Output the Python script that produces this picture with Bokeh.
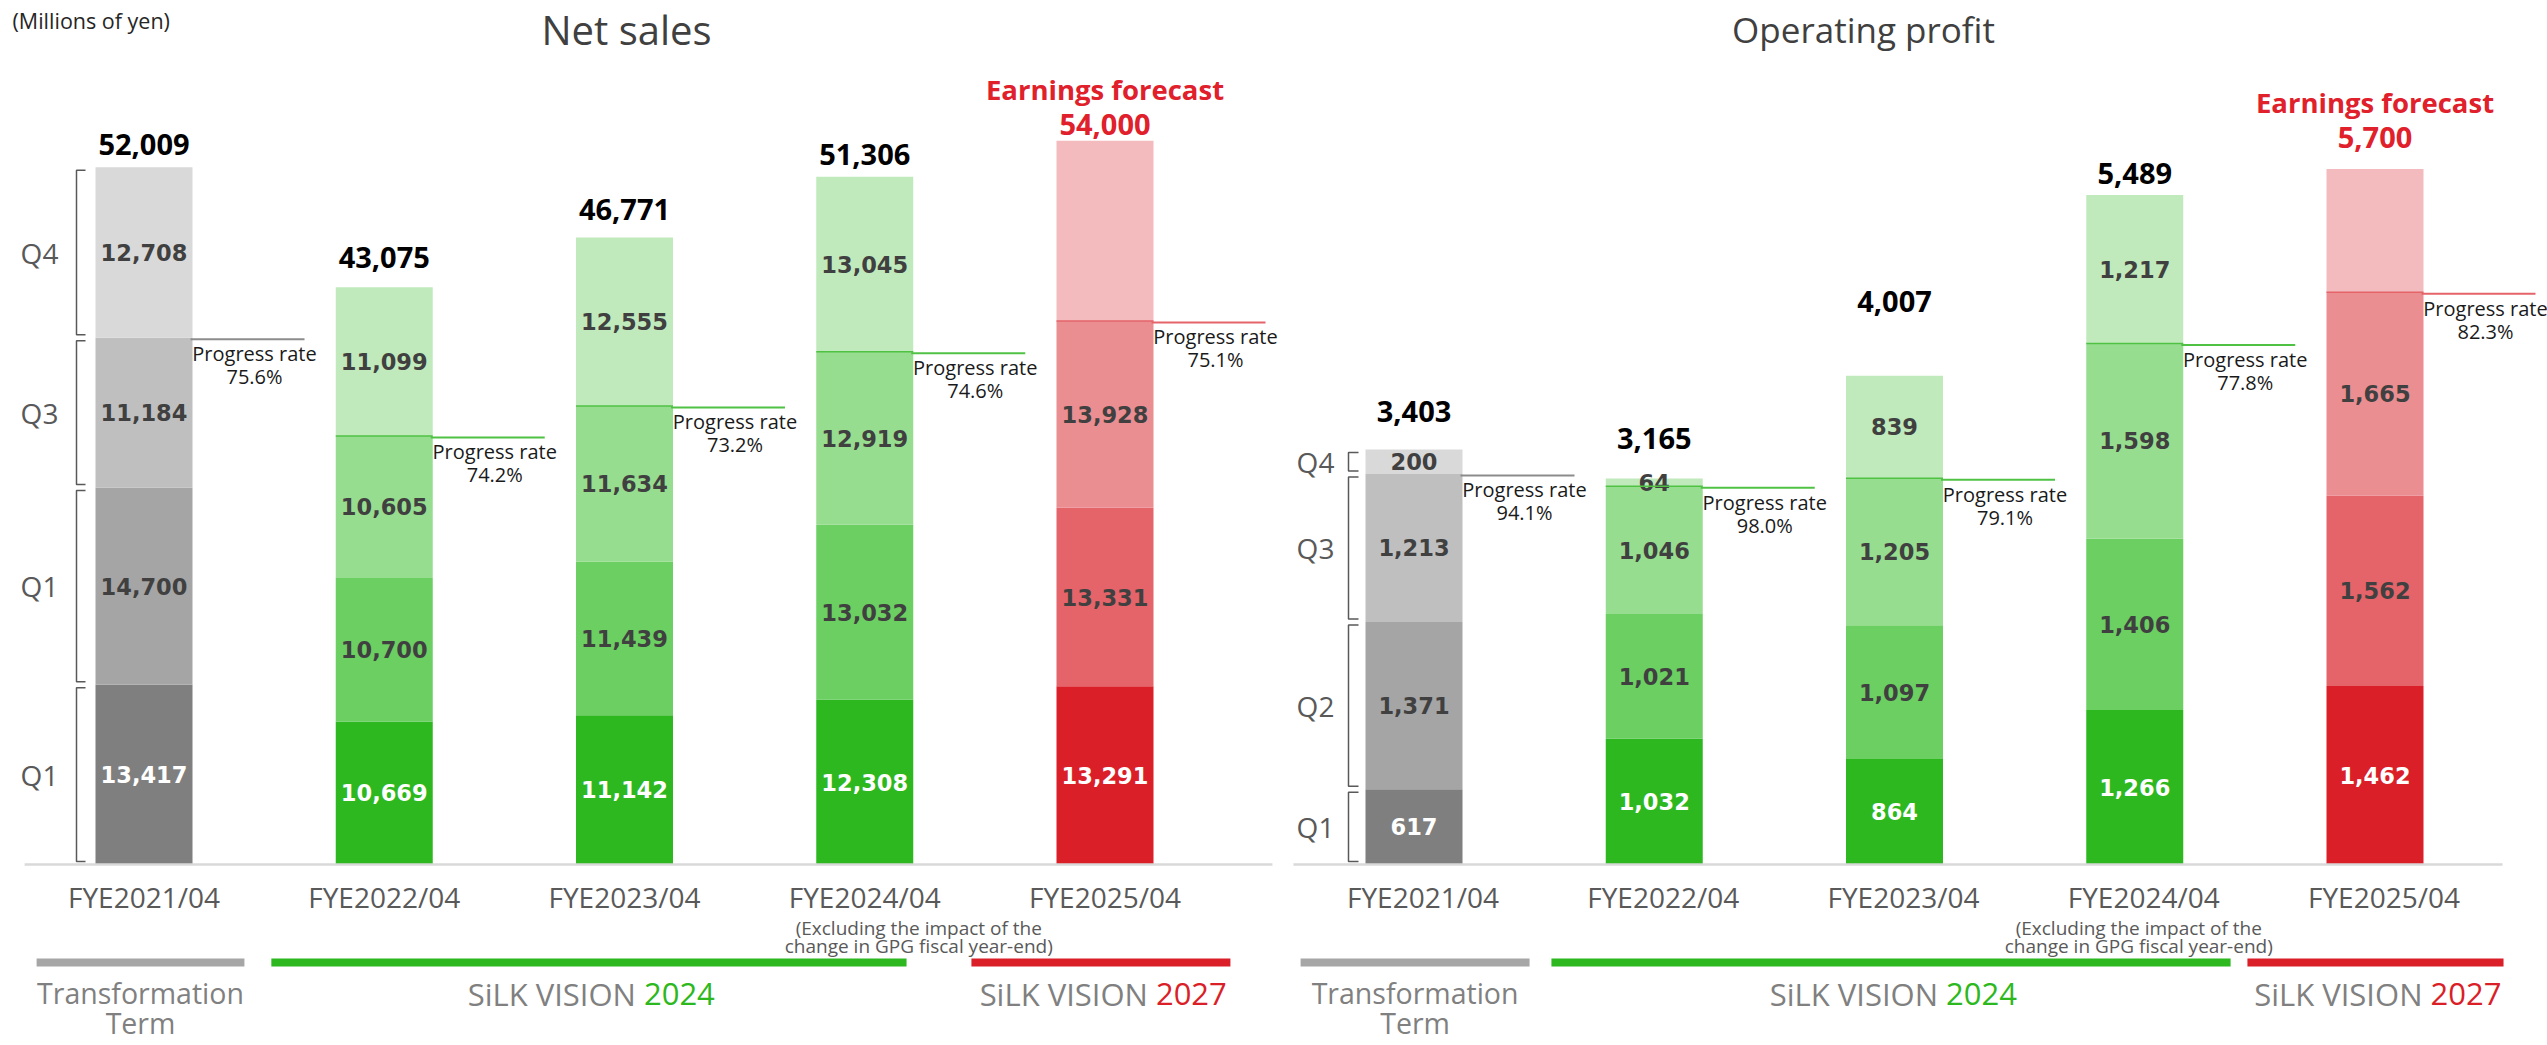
import numpy as np
from bokeh.plotting import figure
from bokeh.layouts import row
from bokeh.models import Range1d, ColumnDataSource
from bokeh.core.properties import value
from bokeh.embed import file_html
from bokeh.resources import INLINE

# ---------------- data ----------------
years = ["FYE2021/04", "FYE2022/04", "FYE2023/04", "FYE2024/04", "FYE2025/04"]

sales_q1 = [13417, 10669, 11142, 12308, 13291]
sales_q2 = [14700, 10700, 11439, 13032, 13331]
sales_q3 = [11184, 10605, 11634, 12919, 13928]
sales_q4 = [12708, 11099, 12555, 13045, None]      # FYE2025 Q4: remainder of forecast
sales_total = [52009, 43075, 46771, 51306, 54000]
sales_progress = ["75.6%", "74.2%", "73.2%", "74.6%", "75.1%"]
sales_qlabels = ["Q1", "Q1", "Q3", "Q4"]           # as printed, bottom to top

op_q1 = [617, 1032, 864, 1266, 1462]
op_q2 = [1371, 1021, 1097, 1406, 1562]
op_q3 = [1213, 1046, 1205, 1598, 1665]
op_q4 = [200, 64, 839, 1217, None]
op_total = [3403, 3165, 4007, 5489, 5700]
op_progress = ["94.1%", "98.0%", "79.1%", "77.8%", "82.3%"]
op_qlabels = ["Q1", "Q2", "Q3", "Q4"]

forecast_flags = [False, False, False, False, True]
terms = [("Transformation", "Term", ""), ("SiLK VISION", "", "2024"), ("SiLK VISION", "", "2027")]
note_lines = ["(Excluding the impact of the", "change in GPG fiscal year-end)"]

# ---------------- style ----------------
GRAY = ["#7f7f7f", "#a5a5a5", "#bfbfbf", "#d9d9d9"]
GREEN = ["#2db820", "#6bcf62", "#97dd8f", "#c1eabc"]
RED = ["#da1f28", "#e5646a", "#eb8e92", "#f3bbbe"]
PALETTES = [GRAY, GREEN, GREEN, GREEN, RED]
LINE_COLORS = ["#8c8c8c", "#4fc244", "#4fc244", "#4fc244", "#e5646a"]
TERM_COLORS = ["#a6a6a6", "#2db820", "#da1f28"]
FC_RED = "#e0202b"
FONT = "Open Sans"

H = 1045
SP = 240.25          # px between category centres
BASE = 864           # baseline, px from top of figure
BW = 97 / SP         # bar width in category units


def make_panel(width, first_px, upp, q, totals, progress, qlabels, title, title_dx, title_size,
               tot_off, fc_off, term_ext, bracket_px, qlabel_px, base_ext, cat_dx,
               note_dx, show_units):
    x0 = -first_px / SP
    x1 = (width - first_px) / SP
    ytop = BASE * upp
    ybot = -(H - BASE) * upp
    dy = lambda px: px * upp
    dx = lambda px: px / SP
    yl = lambda px: ytop - px * upp   # y of a position px below figure top

    p = figure(width=width, height=H, x_range=Range1d(x0, x1), y_range=Range1d(ybot, ytop),
               x_axis_type=None, y_axis_type=None, toolbar_location=None,
               output_backend="svg", min_border=0, outline_line_color=None)

    n = len(years)
    xs = np.arange(n)
    # stacked bars
    bx, bb, bt, bc, lx, ly, lt, lc = [], [], [], [], [], [], [], []
    tops, q3tops = [], []
    for i in range(n):
        acc = 0
        for k in range(4):
            v = q[k][i]
            if v is None:
                v = totals[i] - acc
                lab = None
            else:
                lab = f"{v:,}"
            bx.append(i); bb.append(acc); bt.append(acc + v); bc.append(PALETTES[i][k])
            if lab:
                lx.append(i); ly.append(acc + v / 2); lt.append(lab)
                lc.append("#ffffff" if k == 0 else "#404040")
            acc += v
            if k == 2:
                q3tops.append(acc)
        tops.append(acc)
    p.vbar(x="x", width=BW, bottom="b", top="t", fill_color="c", line_color=None,
           source=ColumnDataSource(dict(x=bx, b=bb, t=bt, c=bc)))
    p.text(x="x", y="y", text="t", text_color="c", source=ColumnDataSource(dict(x=lx, y=ly, t=lt, c=lc)),
           text_font=value("DejaVu Sans"), text_font_style="bold", text_font_size="22.5px",
           text_align="center", text_baseline="middle")

    # totals
    for i in range(n):
        if forecast_flags[i]:
            p.text(x=[i], y=[tops[i]], text=[f"{totals[i]:,}"], y_offset=-fc_off[0],
                   text_font=value(FONT), text_font_style="bold", text_font_size="29px",
                   text_color=FC_RED, text_align="center", text_baseline="middle")
            p.text(x=[i], y=[tops[i]], text=["Earnings forecast"], y_offset=-fc_off[1],
                   text_font=value(FONT), text_font_style="bold", text_font_size="27.5px",
                   text_color=FC_RED, text_align="center", text_baseline="middle")
        else:
            p.text(x=[i], y=[tops[i]], text=[f"{totals[i]:,}"], y_offset=-tot_off[i],
                   text_font=value(FONT), text_font_style="bold", text_font_size="29px",
                   text_color="#000000", text_align="center", text_baseline="middle")

    # progress rate lines and texts
    for i in range(n):
        xr = i + BW / 2
        if i > 0:
            p.segment(x0=[i - BW / 2], y0=[q3tops[i]], x1=[xr], y1=[q3tops[i]],
                      line_color=LINE_COLORS[i], line_width=1.5)
        p.segment(x0=[xr - dx(2)], y0=[q3tops[i] - dy(1.5)], x1=[xr + dx(112)], y1=[q3tops[i] - dy(1.5)],
                  line_color=LINE_COLORS[i], line_width=2)
        p.text(x=[xr + dx(62)] * 2, y=[q3tops[i]] * 2, text=["Progress rate", progress[i]],
               y_offset=[16, 39], text_font=value(FONT), text_font_size="20px",
               text_color="#1a1a1a", text_align="center", text_baseline="middle")

    # brackets and quarter labels on the first bar
    acc = 0
    bxs, bys = [], []
    qx, qy = [], []
    xb = -BW / 2 - dx(bracket_px[0])
    xh = -BW / 2 - dx(bracket_px[1])
    for k in range(4):
        v = q[k][0]
        lo, hi = acc + dy(3), acc + v - dy(3)
        bxs.append([xh, xb, xb, xh]); bys.append([hi, hi, lo, lo])
        qx.append(-BW / 2 - dx(qlabel_px)); qy.append(acc + v / 2)
        acc += v
    p.multi_line(xs=bxs, ys=bys, line_color="#595959", line_width=1.5)
    p.text(x=qx, y=qy, text=qlabels, text_font=value(FONT), text_font_size="28px",
           text_color="#595959", text_align="center", text_baseline="middle")

    # baseline
    p.segment(x0=[base_ext[0]], y0=[0], x1=[base_ext[1]], y1=[0], line_color="#d9d9d9", line_width=2.5)

    # category labels
    p.text(x=list(xs), y=[0] * n, text=years, x_offset=cat_dx, y_offset=32, text_font=value(FONT),
           text_font_size="28px", text_color="#595959", text_align="center", text_baseline="middle")

    # note under FYE2024
    p.text(x=[3, 3], y=[0, 0], text=note_lines, x_offset=note_dx, y_offset=[63, 81],
           text_font=value(FONT), text_font_size="19px", text_color="#595959",
           text_align="center", text_baseline="middle")

    # term bars and names
    for j, (a, b) in enumerate(term_ext):
        p.segment(x0=[a], y0=[-dy(98)], x1=[b], y1=[-dy(98)], line_color=TERM_COLORS[j], line_width=8)
        mid = (a + b) / 2
        t1, t2, yr = terms[j]
        if yr:
            p.text(x=[mid], y=[-dy(129)], text=[t1], x_offset=47, text_font=value(FONT),
                   text_font_size="31px", text_color="#808080", text_align="right", text_baseline="middle")
            p.text(x=[mid], y=[-dy(129)], text=[yr], x_offset=55, text_font=value(FONT),
                   text_font_size="31px", text_color=TERM_COLORS[j], text_align="left", text_baseline="middle")
        else:
            p.text(x=[mid, mid], y=[-dy(128), -dy(158)], text=[t1, t2], text_font=value(FONT),
                   text_font_size="28.5px", text_color="#808080", text_align="center", text_baseline="middle")

    # title
    p.text(x=[2], y=[yl(29)], text=[title], x_offset=title_dx, text_font=value(FONT),
           text_font_size=title_size, text_color="#404040", text_align="center", text_baseline="middle")
    if show_units:
        p.text(x=[x0], y=[yl(20)], text=["(Millions of yen)"], x_offset=12, text_font=value(FONT),
               text_font_size="21.5px", text_color="#262626", text_align="left", text_baseline="middle")
    return p


WL, WR = 1283, 1264
left = make_panel(WL, 143.5, 1 / 0.013404, [sales_q1, sales_q2, sales_q3, sales_q4], sales_total,
                  sales_progress, sales_qlabels, "Net sales", 2, "40px",
                  [23, 30, 28, 22, 0], (16, 51),
                  [(-0.447, 0.418), (0.53, 3.174), (3.444, 4.522)],
                  (19, 10), 56, (-0.497, 4.697), 0, 54, True)
right = make_panel(WR, 130.5, 1 / 0.12202, [op_q1, op_q2, op_q3, op_q4], op_total,
                   op_progress, op_qlabels, "Operating profit", -31, "35px",
                   [38, 40, 74, 21, 0], (31, 66),
                   [(-0.472, 0.481), (0.572, 3.399), (3.469, 4.535)],
                   (17, 7), 50, (-0.5016, 4.531), 9, 4, False)

layout = row(left, right)
open("out.html", "w").write(file_html(layout, INLINE))
